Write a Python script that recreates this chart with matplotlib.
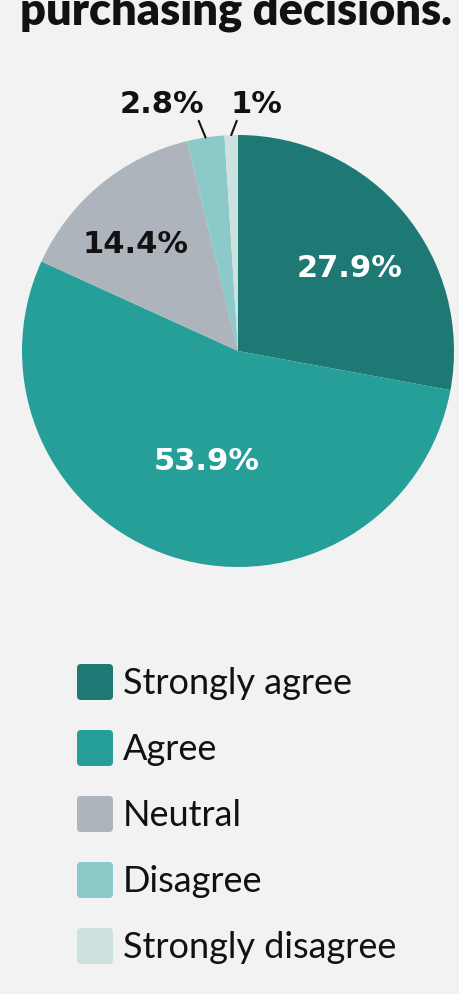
import matplotlib.pyplot as plt
from matplotlib.patches import FancyBboxPatch
import numpy as np

# data
categories = ["Strongly agree", "Agree", "Neutral", "Disagree", "Strongly disagree"]
shares = [27.9, 53.9, 14.4, 2.8, 1.0]
colors = ["#1e7873", "#279f99", "#adb4bb", "#8ccaca", "#cde1e1"]
pct_labels = ["27.9%", "53.9%", "14.4%", "2.8%", "1%"]

title_text = "purchasing decisions."
bg = "#f2f2f2"

plt.rcParams['font.family'] = ['Lato', 'DejaVu Sans']

fig = plt.figure(figsize=(4.6, 9.95), dpi=100)
fig.patch.set_facecolor(bg)

# pie: centre (238, 352) px, radius 216 px
ax = fig.add_axes([22 / 460, 1 - 568 / 995, 432 / 460, 432 / 995])
ax.set_facecolor(bg)
wedges, _ = ax.pie(shares, colors=colors, startangle=90, counterclock=False,
                   radius=1.0, wedgeprops=dict(linewidth=0))
ax.set_xlim(-1, 1)
ax.set_ylim(-1, 1)
ax.set_aspect('equal')
ax.axis('off')


def px(x, y):
    # pixel position -> pie data coords
    return ((x - 238) / 216, (352 - y) / 216)


# label layout (centre x, baseline y in pixels)
label_pos = [px(350, 277), px(207, 470), px(135, 253), px(162, 113), px(256, 113)]
label_col = ["white", "white", "#111111", "#111111", "#111111"]
line_rel = {3: (0.92, 0.0), 4: (0.15, 0.0)}
num_font = dict(family='DejaVu Sans', fontsize=22, fontweight='bold')

for i, lab in enumerate(pct_labels):
    if i in line_rel:
        w = wedges[i]
        mid = np.deg2rad((w.theta1 + w.theta2) / 2)
        ax.annotate(lab, xy=(np.cos(mid), np.sin(mid)), xytext=label_pos[i],
                    ha='center', va='baseline', color=label_col[i],
                    annotation_clip=False, **num_font,
                    arrowprops=dict(arrowstyle='-', color="#111111", lw=1.5,
                                    shrinkA=0, shrinkB=0, relpos=line_rel[i]))
    else:
        ax.text(*label_pos[i], lab, ha='center', va='baseline',
                color=label_col[i], **num_font)

# title (cropped at top in the reference)
fig.text(20 / 460, 1 - 25 / 995, title_text, ha='left', va='baseline',
         fontsize=32.5, fontweight='heavy', color="#111111")

# legend
lax = fig.add_axes([0, 0, 1, 1])
lax.set_xlim(0, 460)
lax.set_ylim(995, 0)
lax.axis('off')
for i, (name, c) in enumerate(zip(categories, colors)):
    yc = 683 + i * 66
    lax.add_patch(FancyBboxPatch((77, yc - 18), 36, 36,
                                 boxstyle="round,pad=0,rounding_size=4",
                                 facecolor=c, edgecolor='none'))
    lax.text(123, yc + 11, name, ha='left', va='baseline', fontsize=26,
             color="#111111")

fig.savefig("out.png", dpi=100, facecolor=bg)
